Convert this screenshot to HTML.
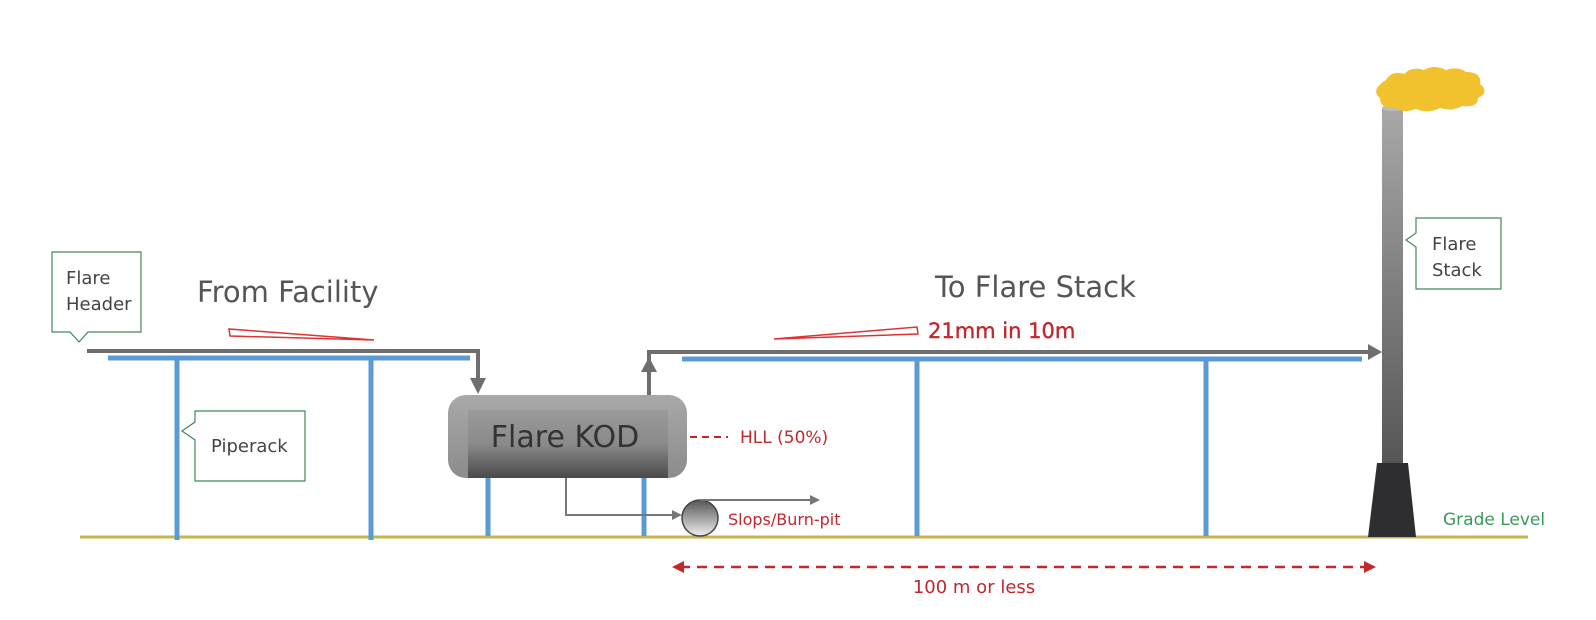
<!DOCTYPE html>
<html><head><meta charset="utf-8"><style>
html,body{margin:0;padding:0;background:#fff;width:1596px;height:620px;overflow:hidden}
svg{display:block}
text{font-family:"DejaVu Sans","Liberation Sans",sans-serif}
</style></head><body>
<svg width="1596" height="620" viewBox="0 0 1596 620" xmlns="http://www.w3.org/2000/svg">
<defs>
<linearGradient id="vg" x1="0" y1="0" x2="0" y2="1">
<stop offset="0" stop-color="#9a9a9a"/><stop offset="0.5" stop-color="#8a8a8a"/><stop offset="1" stop-color="#4a4a4a"/></linearGradient>
<linearGradient id="cg" x1="0" y1="0" x2="0" y2="1">
<stop offset="0" stop-color="#a8a8a8"/><stop offset="1" stop-color="#8c8c8c"/></linearGradient>
<linearGradient id="sg" x1="0" y1="0" x2="0" y2="1">
<stop offset="0" stop-color="#a8a8a8"/><stop offset="1" stop-color="#555"/></linearGradient>
<linearGradient id="pg" x1="0" y1="0" x2="0" y2="1">
<stop offset="0" stop-color="#555"/><stop offset="1" stop-color="#eee"/></linearGradient>
</defs>
<line x1="80" y1="537" x2="1528" y2="537" stroke="#c8b44a" stroke-width="3"/>
<line x1="108" y1="358" x2="470" y2="358" stroke="#5b9bd5" stroke-width="5"/>
<line x1="177" y1="358" x2="177" y2="540" stroke="#5b9bd5" stroke-width="5"/>
<line x1="371" y1="358" x2="371" y2="540" stroke="#5b9bd5" stroke-width="5"/>
<polyline points="87,351 478,351 478,380" fill="none" stroke="#6e6e6e" stroke-width="4"/>
<polygon points="470,378 486,378 478,394" fill="#6e6e6e"/>
<line x1="488" y1="470" x2="488" y2="536" stroke="#5b9bd5" stroke-width="5"/>
<line x1="644" y1="470" x2="644" y2="536" stroke="#5b9bd5" stroke-width="5"/>
<rect x="448" y="395" width="239" height="83" rx="18" fill="url(#cg)"/>
<rect x="468" y="410" width="200" height="68" fill="url(#vg)"/>
<text x="565" y="447" text-anchor="middle" font-size="30" fill="#333">Flare KOD</text>
<polyline points="649,395 649,352 1372,352" fill="none" stroke="#6e6e6e" stroke-width="4"/>
<polygon points="641,372 657,372 649,357" fill="#6e6e6e"/>
<polygon points="1368,344 1382,352 1368,360" fill="#6e6e6e"/>
<line x1="682" y1="359" x2="1362" y2="359" stroke="#5b9bd5" stroke-width="5"/>
<line x1="917" y1="359" x2="917" y2="536" stroke="#5b9bd5" stroke-width="5"/>
<line x1="1206" y1="359" x2="1206" y2="536" stroke="#5b9bd5" stroke-width="5"/>
<polyline points="566,478 566,515 675,515" fill="none" stroke="#777" stroke-width="2"/>
<polygon points="672,510 682,515 672,520" fill="#777"/>
<circle cx="700" cy="518" r="18" fill="url(#pg)" stroke="#444" stroke-width="1.5"/>
<line x1="700" y1="500" x2="812" y2="500" stroke="#777" stroke-width="2"/>
<polygon points="810,495 820,500 810,505" fill="#777"/>
<text x="728" y="525" font-size="16" fill="#c0282d">Slops/Burn-pit</text>
<line x1="690" y1="437" x2="728" y2="437" stroke="#c0282d" stroke-width="2" stroke-dasharray="7,5"/>
<text x="740" y="443" font-size="17" fill="#c0282d">HLL (50%)</text>
<rect x="1382" y="108" width="21" height="360" fill="url(#sg)"/>
<ellipse cx="1392.5" cy="108" rx="10.5" ry="3" fill="#bbb"/>
<polygon points="1377,463 1408,463 1416,537 1368,537" fill="#2e2e30"/>
<path d="M1386,80 q6,-10 18,-6 q8,-8 20,-4 q10,-6 22,0 q12,-4 20,2 q16,0 14,12 q10,8 -2,14 q0,10 -16,8 q-10,6 -22,2 q-12,6 -24,1 q-14,5 -22,-2 q-14,2 -14,-9 q-10,-8 6,-18z" fill="#f2c12e"/>
<line x1="680" y1="567" x2="1368" y2="567" stroke="#c0282d" stroke-width="2.5" stroke-dasharray="10,7"/>
<polygon points="672,567 684,561 684,573" fill="#c0282d"/>
<polygon points="1376,567 1364,561 1364,573" fill="#c0282d"/>
<text x="974" y="593" text-anchor="middle" font-size="18" fill="#c0282d">100 m or less</text>
<polygon points="229,329 230,336 374,340" fill="none" stroke="#d33" stroke-width="1.5"/>
<polygon points="774,339 917,327 918,334" fill="none" stroke="#d33" stroke-width="1.5"/>
<text x="928" y="338" font-size="21" fill="#c0282d" stroke="#c0282d" stroke-width="0.4">21mm in 10m</text>
<text x="197" y="302" font-size="29" fill="#555">From Facility</text>
<text x="935" y="297" font-size="29" fill="#555">To Flare Stack</text>
<text x="1443" y="525" font-size="17" fill="#3a9a5a">Grade Level</text>
<path d="M52,252 H141 V332 H88 L79,342 L70,332 H52 Z" fill="#fff" stroke="#3d8a5a" stroke-width="1.2"/>
<text x="66" y="284" font-size="18" fill="#444">Flare</text>
<text x="66" y="310" font-size="18" fill="#444">Header</text>
<path d="M195,411 H305 V481 H195 V440 L182,431 L195,422 Z" fill="#fff" stroke="#3d8a5a" stroke-width="1.2"/>
<text x="211" y="452" font-size="18" fill="#444">Piperack</text>
<path d="M1416,218 H1501 V289 H1416 V247 L1406,240 L1416,233 Z" fill="#fff" stroke="#3d8a5a" stroke-width="1.2"/>
<text x="1432" y="250" font-size="18" fill="#444">Flare</text>
<text x="1432" y="276" font-size="18" fill="#444">Stack</text>
</svg>
</body></html>
